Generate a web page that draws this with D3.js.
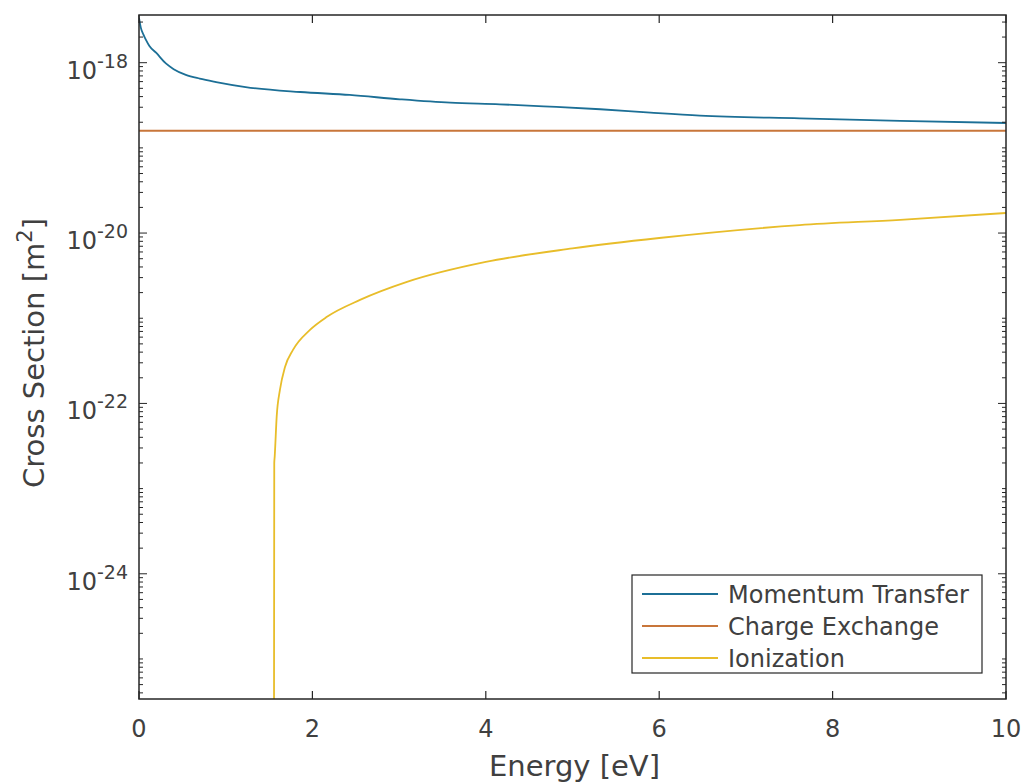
<!DOCTYPE html>
<html><head><meta charset="utf-8">
<script src="https://cdn.jsdelivr.net/npm/d3@7"></script>
<style>body{margin:0;background:#fff}svg{display:block}text{font-family:"DejaVu Sans",sans-serif;fill:#404040}</style>
</head><body>
<script>
// Data
const momentumE   = [0, 0.02, 0.05, 0.08, 0.12, 0.2, 0.31, 0.4, 0.54, 0.7, 0.89, 1.23, 1.86, 2.43, 3.01, 3.59, 4.16, 4.74, 5.32, 5.9, 6.47, 7.62, 8.78, 10];
const momentumVal = [3.35e-18, 2.6e-18, 2.15e-18, 1.85e-18, 1.57e-18, 1.3e-18, 9.8e-19, 8.4e-19, 7.2e-19, 6.5e-19, 5.93e-19, 5.18e-19, 4.53e-19, 4.18e-19, 3.72e-19, 3.39e-19, 3.25e-19, 3.05e-19, 2.84e-19, 2.59e-19, 2.39e-19, 2.22e-19, 2.08e-19, 1.96e-19];
const chargeE     = [0, 10];
const chargeVal   = [1.59e-19, 1.59e-19];
const ionE        = [1.556, 1.56, 1.565, 1.588, 1.626, 1.684, 1.776, 1.972, 2.168, 2.549, 3.091, 4.0, 5.0, 6.0, 7.62, 8.78, 10];
const ionVal      = [1e-27, 2.0e-23, 2.36e-23, 7.0e-23, 1.45e-22, 2.68e-22, 4.25e-22, 7.3e-22, 1.04e-21, 1.64e-21, 2.67e-21, 4.58e-21, 6.6e-21, 8.75e-21, 1.24e-20, 1.43e-20, 1.72e-20];
const seriesNames = ["Momentum Transfer", "Charge Exchange", "Ionization"];
const seriesColors = ["#1c6f96", "#c8763a", "#e8bd2a"];
const xTicks = [0, 2, 4, 6, 8, 10];
const yTickExps = [-18, -20, -22, -24];
const xDomain = [0, 10];
const yDomain = [Math.pow(10, -25.47), Math.pow(10, -17.44)];

const W = 1025, H = 782;
const L = 139, R = 1006, T = 15, B = 699;
const svg = d3.select("body").append("svg").attr("width", W).attr("height", H);
const x = d3.scaleLinear().domain(xDomain).range([L, R]);
const y = d3.scaleLog().domain(yDomain).range([B, T]);

svg.append("defs").append("clipPath").attr("id", "clip")
  .append("rect").attr("x", L).attr("y", T).attr("width", R - L).attr("height", B - T);

const line = d3.line().x(d => x(d[0])).y(d => y(d[1])).curve(d3.curveMonotoneX);
const series = [
  d3.zip(momentumE, momentumVal),
  d3.zip(chargeE, chargeVal),
  d3.zip(ionE, ionVal)
];
const g = svg.append("g").attr("clip-path", "url(#clip)");
series.forEach((s, i) => {
  g.append("path").datum(s).attr("d", line).attr("fill", "none")
    .attr("stroke", seriesColors[i]).attr("stroke-width", 1.8).attr("stroke-linejoin", "round");
});

// axes (box with inward ticks)
const axCol = "#262626";
const majorLen = 8, minorLen = 4;
const ax = svg.append("g");
xTicks.forEach(t => {
  ax.append("line").attr("x1", x(t)).attr("x2", x(t)).attr("y1", B).attr("y2", B - majorLen).attr("stroke", axCol).attr("stroke-width", 1.2);
  ax.append("line").attr("x1", x(t)).attr("x2", x(t)).attr("y1", T).attr("y2", T + majorLen).attr("stroke", axCol).attr("stroke-width", 1.2);
  ax.append("text").attr("x", x(t)).attr("y", 737).attr("text-anchor", "middle").attr("font-size", 24).text(t);
});
const yMin = Math.log10(yDomain[0]), yMax = Math.log10(yDomain[1]);
for (let e = Math.floor(yMin); e <= Math.ceil(yMax); e++) {
  for (let k = 1; k <= 9; k++) {
    const v = k * Math.pow(10, e);
    const lv = Math.log10(v);
    if (lv < yMin || lv > yMax) continue;
    const isMajor = (k === 1 && yTickExps.includes(e));
    const len = isMajor ? majorLen : minorLen;
    const yy = y(v);
    ax.append("line").attr("x1", L).attr("x2", L + len).attr("y1", yy).attr("y2", yy).attr("stroke", axCol).attr("stroke-width", 1);
    ax.append("line").attr("x1", R).attr("x2", R - len).attr("y1", yy).attr("y2", yy).attr("stroke", axCol).attr("stroke-width", 1);
  }
}
yTickExps.forEach(e => {
  const yy = y(Math.pow(10, e));
  const t = ax.append("text").attr("x", 128).attr("y", yy + 16).attr("text-anchor", "end");
  t.append("tspan").attr("font-size", 24).text("10");
  t.append("tspan").attr("font-size", 19).attr("dy", -11).text("-" + Math.abs(e));
});
ax.append("rect").attr("x", L).attr("y", T).attr("width", R - L).attr("height", B - T)
  .attr("fill", "none").attr("stroke", axCol).attr("stroke-width", 1.5);

// axis labels
svg.append("text").attr("x", (L + R) / 2 + 2).attr("y", 776).attr("text-anchor", "middle").attr("font-size", 29).text("Energy [eV]");
const yl = svg.append("text").attr("transform", `translate(44,${(T + B) / 2 - 4}) rotate(-90)`).attr("text-anchor", "middle").attr("font-size", 29);
yl.append("tspan").text("Cross Section [m");
yl.append("tspan").attr("font-size", 21).attr("dy", -12).text("2");
yl.append("tspan").attr("dy", 12).text("]");

// legend
const lg = svg.append("g");
lg.append("rect").attr("x", 632).attr("y", 575).attr("width", 350).attr("height", 98)
  .attr("fill", "#fff").attr("stroke", axCol).attr("stroke-width", 1.2);
seriesNames.forEach((n, i) => {
  const yy = 594 + i * 32;
  lg.append("line").attr("x1", 642).attr("x2", 718).attr("y1", yy).attr("y2", yy)
    .attr("stroke", seriesColors[i]).attr("stroke-width", 1.8);
  lg.append("text").attr("x", 728).attr("y", yy + 9).attr("font-size", 24).text(n);
});
</script>
</body></html>
